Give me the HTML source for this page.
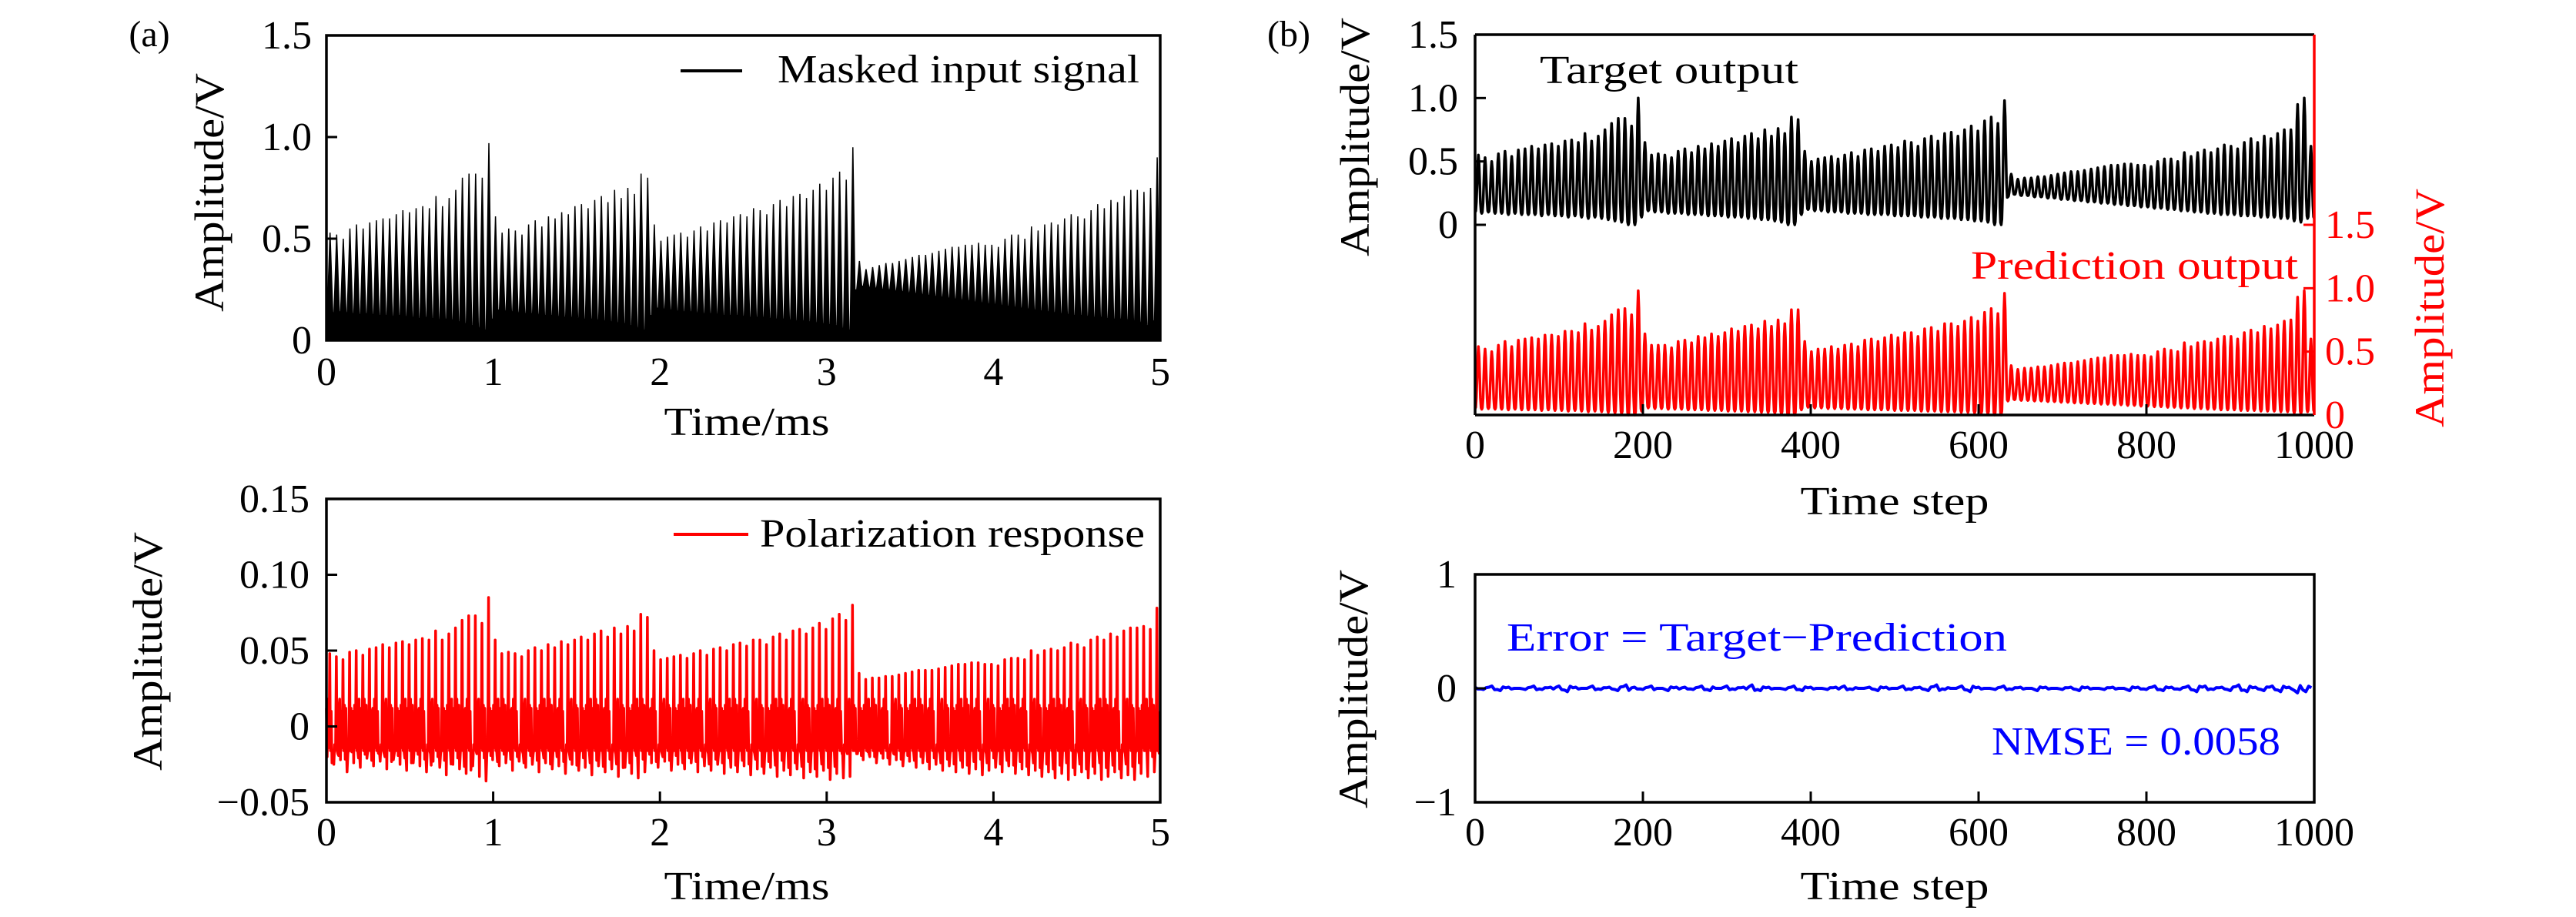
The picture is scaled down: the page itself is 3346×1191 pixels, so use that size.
<!DOCTYPE html>
<html><head><meta charset="utf-8"><style>
html,body{margin:0;padding:0;background:#fff;}
svg{display:block;}
text{font-family:"Liberation Serif","DejaVu Serif",serif;}
</style></head><body>
<svg id="fig" width="3346" height="1191" viewBox="0 0 3346 1191" xmlns="http://www.w3.org/2000/svg" font-family="Liberation Serif, DejaVu Serif, serif"></svg>
<script>
// ---- data (per oscillation cycle, 1000 time steps ~ 5 ms) ----
const targetPeaks = [0.55,0.53,0.50,0.56,0.58,0.54,0.59,0.60,0.62,0.60,0.63,0.64,0.62,0.66,0.67,0.65,0.72,0.66,0.70,0.75,0.80,0.84,0.84,0.78,1.00,
0.65,0.55,0.56,0.55,0.53,0.58,0.60,0.57,0.62,0.60,0.64,0.62,0.66,0.68,0.65,0.70,0.72,0.68,0.75,0.70,0.76,0.72,0.85,0.83,
0.58,0.50,0.52,0.53,0.54,0.52,0.55,0.57,0.54,0.59,0.60,0.58,0.62,0.63,0.61,0.66,0.65,0.62,0.68,0.70,0.66,0.72,0.73,0.70,0.75,0.78,0.74,0.82,0.85,0.80,0.98,
0.40,0.36,0.37,0.37,0.38,0.38,0.39,0.40,0.41,0.42,0.42,0.43,0.44,0.45,0.46,0.47,0.47,0.48,0.48,0.47,0.47,0.46,0.50,0.52,0.52,0.50,0.57,0.54,0.57,0.59,0.57,0.60,0.63,0.62,0.60,0.65,0.68,0.65,0.70,0.68,0.72,0.75,0.75,0.95,1.00,0.62];
const targetTroughs = [0.10,0.09,0.10,0.09,0.09,0.08,0.09,0.08,0.08,0.08,0.07,0.08,0.07,0.07,0.06,0.07,0.06,0.05,0.06,0.05,0.04,0.03,0.02,0.00,0.00,
0.06,0.11,0.10,0.10,0.09,0.09,0.09,0.08,0.08,0.08,0.07,0.07,0.07,0.06,0.06,0.06,0.05,0.05,0.04,0.04,0.03,0.02,0.00,0.00,
0.08,0.12,0.11,0.11,0.10,0.10,0.10,0.09,0.09,0.09,0.08,0.08,0.08,0.08,0.07,0.07,0.07,0.07,0.06,0.06,0.06,0.05,0.05,0.05,0.04,0.04,0.03,0.03,0.02,0.00,0.00,
0.22,0.24,0.23,0.23,0.22,0.22,0.21,0.21,0.20,0.20,0.19,0.19,0.18,0.18,0.17,0.17,0.16,0.16,0.15,0.15,0.14,0.14,0.13,0.13,0.12,0.12,0.11,0.11,0.10,0.10,0.09,0.09,0.08,0.08,0.08,0.07,0.07,0.07,0.06,0.06,0.06,0.05,0.05,0.03,0.02,0.05];
const inputPeaks = [0.53,0.52,0.50,0.55,0.57,0.55,0.58,0.59,0.60,0.60,0.62,0.64,0.63,0.65,0.66,0.65,0.71,0.66,0.70,0.74,0.80,0.82,0.82,0.80,0.97,
0.61,0.53,0.55,0.54,0.52,0.57,0.59,0.56,0.61,0.60,0.63,0.62,0.66,0.67,0.65,0.69,0.71,0.68,0.74,0.70,0.75,0.72,0.82,0.80,
0.57,0.49,0.51,0.52,0.53,0.51,0.54,0.56,0.54,0.58,0.59,0.58,0.61,0.62,0.61,0.65,0.64,0.62,0.67,0.69,0.66,0.71,0.72,0.70,0.74,0.77,0.74,0.80,0.83,0.79,0.95,
0.39,0.35,0.36,0.37,0.38,0.38,0.39,0.40,0.41,0.42,0.42,0.43,0.44,0.45,0.46,0.46,0.47,0.47,0.48,0.47,0.47,0.46,0.50,0.52,0.52,0.50,0.56,0.54,0.57,0.58,0.57,0.60,0.62,0.61,0.60,0.64,0.67,0.65,0.69,0.68,0.71,0.74,0.74,0.73,0.75,0.90];
const polarPeaks = [0.048,0.046,0.044,0.049,0.050,0.047,0.051,0.052,0.054,0.052,0.055,0.056,0.054,0.057,0.058,0.057,0.063,0.057,0.061,0.065,0.070,0.073,0.073,0.068,0.085,
0.057,0.048,0.049,0.048,0.046,0.050,0.052,0.050,0.054,0.052,0.056,0.054,0.057,0.059,0.057,0.061,0.063,0.059,0.065,0.061,0.066,0.063,0.074,0.072,
0.050,0.044,0.045,0.046,0.047,0.045,0.048,0.050,0.047,0.051,0.052,0.050,0.054,0.055,0.053,0.057,0.057,0.054,0.059,0.061,0.057,0.063,0.064,0.061,0.065,0.068,0.064,0.071,0.074,0.070,0.080,
0.035,0.031,0.032,0.032,0.033,0.033,0.034,0.035,0.036,0.037,0.037,0.037,0.038,0.039,0.040,0.041,0.041,0.042,0.042,0.041,0.041,0.040,0.044,0.045,0.045,0.044,0.050,0.047,0.050,0.051,0.050,0.052,0.055,0.054,0.052,0.057,0.059,0.057,0.061,0.059,0.063,0.065,0.065,0.066,0.064,0.078];
const polarMins = [-0.020,-0.025,-0.022,-0.030,-0.024,-0.027,-0.021,-0.026,-0.023,-0.028,-0.022,-0.025,-0.029,-0.024,-0.026,-0.030,-0.023,-0.027,-0.032,-0.025,-0.028,-0.031,-0.026,-0.033,-0.036,
-0.022,-0.026,-0.024,-0.029,-0.023,-0.027,-0.025,-0.030,-0.024,-0.028,-0.026,-0.031,-0.025,-0.029,-0.027,-0.032,-0.026,-0.030,-0.028,-0.033,-0.027,-0.031,-0.034,-0.030,
-0.024,-0.027,-0.023,-0.029,-0.025,-0.028,-0.024,-0.030,-0.026,-0.029,-0.025,-0.031,-0.027,-0.030,-0.026,-0.032,-0.028,-0.031,-0.027,-0.033,-0.029,-0.032,-0.028,-0.034,-0.030,-0.033,-0.029,-0.035,-0.031,-0.034,-0.033,
-0.018,-0.022,-0.020,-0.024,-0.021,-0.025,-0.022,-0.026,-0.023,-0.027,-0.024,-0.028,-0.025,-0.029,-0.026,-0.030,-0.027,-0.031,-0.028,-0.032,-0.029,-0.027,-0.030,-0.026,-0.031,-0.028,-0.032,-0.029,-0.033,-0.030,-0.034,-0.031,-0.035,-0.032,-0.030,-0.034,-0.031,-0.035,-0.033,-0.030,-0.034,-0.032,-0.035,-0.031,-0.033,-0.030];
const predPeaks = [0.54,0.52,0.50,0.55,0.58,0.54,0.59,0.60,0.61,0.60,0.63,0.63,0.62,0.66,0.66,0.65,0.72,0.67,0.70,0.74,0.79,0.83,0.84,0.79,0.98,
0.64,0.55,0.55,0.55,0.53,0.58,0.59,0.57,0.62,0.61,0.64,0.62,0.65,0.68,0.66,0.70,0.71,0.68,0.74,0.70,0.75,0.72,0.83,0.83,
0.58,0.50,0.52,0.52,0.54,0.52,0.55,0.56,0.54,0.59,0.60,0.58,0.61,0.63,0.61,0.65,0.65,0.62,0.68,0.69,0.66,0.72,0.72,0.70,0.74,0.77,0.74,0.81,0.84,0.80,0.96,
0.39,0.36,0.37,0.37,0.38,0.38,0.39,0.40,0.41,0.41,0.42,0.43,0.44,0.45,0.45,0.47,0.47,0.47,0.48,0.47,0.47,0.46,0.50,0.52,0.51,0.50,0.57,0.54,0.57,0.58,0.57,0.60,0.62,0.62,0.60,0.65,0.67,0.65,0.70,0.68,0.71,0.74,0.75,0.93,0.98,0.60];
const errorVals = [0.01,-0.01,0.02,-0.02,0.01,0.00,-0.01,0.02,-0.01,0.01,0.02,-0.03,0.01,0.00,0.02,-0.01,0.01,-0.02,0.03,0.01,-0.01,0.02,0.00,-0.02,0.01,
0.01,-0.01,0.02,-0.02,0.00,0.02,-0.01,0.01,0.03,-0.02,0.01,0.00,-0.01,0.02,-0.02,0.01,0.00,-0.01,0.01,0.02,-0.01,0.00,0.01,-0.02,0.01,
0.00,0.02,-0.01,0.01,-0.02,0.03,-0.01,0.00,0.02,-0.03,0.01,0.00,-0.01,0.02,-0.01,0.01,0.00,-0.02,0.01,0.00,-0.01,0.01,-0.02,0.01,0.00,
-0.01,0.01,0.00,-0.02,0.01,-0.01,0.02,-0.02,0.01,-0.01,0.02,-0.03,0.02,-0.01,0.01,-0.02,0.03,-0.03,0.01,-0.02,0.02,-0.03,0.01,-0.04,-0.03];
const xTicksA = ["0","1","2","3","4","5"];
const xTicksB = ["0","200","400","600","800","1000"];
const yTicksA1 = ["0","0.5","1.0","1.5"];
const yTicksA2 = ["\u22120.05","0","0.05","0.10","0.15"];
const yTicksB1 = ["0","0.5","1.0","1.5"];
const yTicksB2 = ["\u22121","0","1"];

const NS="http://www.w3.org/2000/svg";
const svg=document.getElementById('fig');
const FONT='Liberation Serif, DejaVu Serif, serif';
function el(tag,attrs,parent){const e=document.createElementNS(NS,tag);for(const k in attrs)e.setAttribute(k,attrs[k]);(parent||svg).appendChild(e);return e;}
function txt(s,x,y,size,color,anchor,parent){const t=el('text',{x:x,y:y,'font-size':size,fill:color||'#000','text-anchor':anchor||'middle','font-family':FONT},parent);t.textContent=s;return t;}
function fit(t,len){t.setAttribute('textLength',len);t.setAttribute('lengthAdjust','spacingAndGlyphs');}
function scale(d0,d1,r0,r1){return v=>r0+(v-d0)/(d1-d0)*(r1-r0);}

function wave(peaks,troughs,sharp,sub){
  const n=peaks.length, w=1000/n, pts=[];
  for(let i=0;i<n;i++){
    const tr0=troughs[i], tr1=troughs[Math.min(i+1,n-1)];
    for(let k=0;k<sub;k++){
      const f=k/sub; const c=Math.pow((1-Math.cos(2*Math.PI*f))/2,sharp);
      const base=tr0+(tr1-tr0)*f;
      pts.push([i*w+f*w, base+(peaks[i]-base)*c]);
    }
  }
  pts.push([1000,troughs[n-1]]);
  return pts;
}
function pathOf(pts,x,y){return pts.map((p,i)=>(i?'L':'M')+x(p[0]).toFixed(1)+','+y(p[1]).toFixed(1)).join('');}

function frame(g,L,T,R,B,name){
  const r=el('rect',{x:L,y:T,width:R-L,height:B-T,fill:'none',stroke:'#000','stroke-width':3.5},g);
  
}

// ========== Panel (a) top ==========
(function(){
  const L=424,R=1507,T=46,B=442;
  const g=el('g',{});  
  const x=scale(0,1000,L,R), y=scale(0,1.5,B,T);
  const n=inputPeaks.length, w=1000/n; let d='M'+L+','+B;
  for(let i=0;i<n;i++){
    const c=x(i*w+w*0.55), b=y(targetTroughs[i]*0.9+0.05);
    d+='L'+(x(i*w)).toFixed(1)+','+b.toFixed(1)+'L'+(c-3.5).toFixed(1)+','+b.toFixed(1)+'L'+c.toFixed(1)+','+y(inputPeaks[i]).toFixed(1)+'L'+(c+3.5).toFixed(1)+','+b.toFixed(1);
  }
  d+='L'+R+','+B+'Z';
  const p=el('path',{d:d,fill:'#000',stroke:'#000','stroke-width':1.5,'stroke-linejoin':'miter'},g);
  
  frame(g,L,T,R,B,'panel-a-top-frame');
  xTicksA.forEach((s,i)=>{const xx=L+i*(R-L)/5; if(i>0&&i<5) el('line',{x1:xx,y1:B,x2:xx,y2:B-14,stroke:'#000','stroke-width':3},g);
    const t=txt(s,xx,500,52,'#000','middle',g); });
  yTicksA1.forEach((s,i)=>{const yy=y(i*0.5); el('line',{x1:L,y1:yy,x2:L+14,y2:yy,stroke:'#000','stroke-width':3},g);
    const t=txt(s,405,yy+17,52,'#000','end',g); });
  el('line',{x1:884,y1:92,x2:964,y2:92,stroke:'#000','stroke-width':4},g);
  const lg=txt('Masked input signal',1010,107,52,'#000','start',g); fit(lg,470);
  
  const xt=txt('Time/ms',970,565,52,'#000','middle',g); fit(xt,215); 
  const yt=txt('Amplitude/V',0,0,54,'#000','middle',g); fit(yt,310); yt.setAttribute('transform','translate(290,250) rotate(-90)');
  
  const lab=txt('(a)',194,60,48,'#000','middle',g); 
})();

// ========== Panel (a) bottom ==========
(function(){
  const L=424,R=1507,T=648,B=1042;
  const g=el('g',{});  
  const x=scale(0,1000,L,R), y=scale(-0.05,0.15,B,T);
  const n=polarPeaks.length, w=1000/n; const wig=[0.012,-0.016,0.018,-0.012,0.010,-0.018,0.014];
  let d='';
  for(let i=0;i<n;i++){
    const s=i*w;
    const seq=[[0,wig[i%7]],[0.12,polarMins[i]],[0.25,wig[(i+2)%7]],[0.38,-0.014],[0.5,polarPeaks[i]],[0.6,-0.016],[0.72,wig[(i+4)%7]],[0.84,polarMins[(i+3)%n]*0.8],[0.93,wig[(i+5)%7]]];
    seq.forEach((q,k)=>{d+=((i||k)?'L':'M')+x(s+q[0]*w).toFixed(1)+','+y(q[1]).toFixed(1);});
  }
  const p=el('path',{d:d,fill:'none',stroke:'#f00','stroke-width':3.5,'stroke-linejoin':'round'},g);
  
  frame(g,L,T,R,B,'panel-a-bottom-frame');
  xTicksA.forEach((s,i)=>{const xx=L+i*(R-L)/5; if(i>0&&i<5) el('line',{x1:xx,y1:B,x2:xx,y2:B-14,stroke:'#000','stroke-width':3},g);
    const t=txt(s,xx,1098,52,'#000','middle',g); });
  yTicksA2.forEach((s,i)=>{const yy=y(-0.05+i*0.05); if(i>0&&i<4) el('line',{x1:L,y1:yy,x2:L+14,y2:yy,stroke:'#000','stroke-width':3},g);
    const t=txt(s,402,yy+17,52,'#000','end',g); });
  el('line',{x1:875,y1:694,x2:972,y2:694,stroke:'#f00','stroke-width':4},g);
  const lg=txt('Polarization response',987,710,52,'#000','start',g); fit(lg,500);
  
  const xt=txt('Time/ms',970,1168,52,'#000','middle',g); fit(xt,215); 
  const yt=txt('Amplitude/V',0,0,54,'#000','middle',g); fit(yt,310); yt.setAttribute('transform','translate(210,846) rotate(-90)');
  
})();

// ========== Panel (b) top ==========
(function(){
  const L=1916,R=3006,T=45,B=539;
  const g=el('g',{});  
  const x=scale(0,1000,L,R), yb=scale(0,1.5,292,T), yr=scale(0,1.5,B,292);
  const p1=el('path',{d:pathOf(wave(targetPeaks,targetTroughs,1.6,10),x,yb),fill:'none',stroke:'#000','stroke-width':3.5,'stroke-linejoin':'round'},g);
  
  const p2=el('path',{d:pathOf(wave(predPeaks,targetTroughs.map(v=>v*0.5),1.6,10),x,yr),fill:'none',stroke:'#f00','stroke-width':3.5,'stroke-linejoin':'round'},g);
  
  el('line',{x1:L,y1:T,x2:R,y2:T,stroke:'#000','stroke-width':3.5},g);
  el('line',{x1:L,y1:B,x2:R,y2:B,stroke:'#000','stroke-width':3.5},g);
  el('line',{x1:L,y1:T,x2:L,y2:B,stroke:'#000','stroke-width':3.5},g);
  const ra=el('line',{x1:R,y1:T,x2:R,y2:B,stroke:'#f00','stroke-width':3.5},g);
  
  xTicksB.forEach((s,i)=>{const xx=L+i*(R-L)/5; if(i>0&&i<5) el('line',{x1:xx,y1:B,x2:xx,y2:B-14,stroke:'#000','stroke-width':3},g);
    const t=txt(s,xx,595,52,'#000','middle',g); });
  yTicksB1.forEach((s,i)=>{const yy=yb(i*0.5); if(i<3) el('line',{x1:L,y1:yy,x2:L+14,y2:yy,stroke:'#000','stroke-width':3},g);
    const t=txt(s,1894,yy+17,52,'#000','end',g); });
  yTicksB1.forEach((s,i)=>{const yy=yr(i*0.5); if(i>0) el('line',{x1:R,y1:yy,x2:R-14,y2:yy,stroke:'#f00','stroke-width':3},g);
    const t=txt(s,3020,yy+17,52,'#f00','start',g); });
  const t1=txt('Target output',2000,108,52,'#000','start',g); fit(t1,336);
  
  const t2=txt('Prediction output',2560,362,52,'#f00','start',g); fit(t2,425);
  
  const xt=txt('Time step',2461,668,52,'#000','middle',g); fit(xt,245); 
  const yt=txt('Amplitude/V',0,0,54,'#000','middle',g); fit(yt,310); yt.setAttribute('transform','translate(1778,178) rotate(-90)');
  
  const yt2=txt('Amplitude/V',0,0,54,'#f00','middle',g); fit(yt2,310); yt2.setAttribute('transform','translate(3174,400) rotate(-90)');
  
  const lab=txt('(b)',1674,60,48,'#000','middle',g); 
})();

// ========== Panel (b) bottom ==========
(function(){
  const L=1916,R=3006,T=746,B=1042;
  const g=el('g',{});  
  const x=scale(0,1000,L,R), y=scale(-1,1,B,T);
  const n=errorVals.length; let d='';
  for(let i=0;i<n;i++){
    const s=i*1000/n, w=1000/n;
    d+=(i?'L':'M')+x(s).toFixed(1)+','+y(errorVals[i]).toFixed(1);
    d+='L'+x(s+w*0.33).toFixed(1)+','+y(-errorVals[i]*0.6).toFixed(1);
    d+='L'+x(s+w*0.66).toFixed(1)+','+y(errorVals[(i+1)%n]*0.5).toFixed(1);
  }
  const p=el('path',{d:d,fill:'none',stroke:'#00f','stroke-width':4,'stroke-linejoin':'round'},g);
  
  frame(g,L,T,R,B,'panel-b-bottom-frame');
  xTicksB.forEach((s,i)=>{const xx=L+i*(R-L)/5; if(i>0&&i<5) el('line',{x1:xx,y1:B,x2:xx,y2:B-14,stroke:'#000','stroke-width':3},g);
    const t=txt(s,xx,1098,52,'#000','middle',g); });
  yTicksB2.forEach((s,i)=>{const yy=y(-1+i); if(i==1) el('line',{x1:L,y1:yy,x2:L+14,y2:yy,stroke:'#000','stroke-width':3},g);
    const t=txt(s,1892,yy+17,52,'#000','end',g); });
  const e1=txt('Error = Target\u2212Prediction',1957,845,52,'#00f','start',g); fit(e1,650);
  
  const e2=txt('NMSE = 0.0058',2962,980,52,'#00f','end',g); fit(e2,375);
  
  const xt=txt('Time step',2461,1168,52,'#000','middle',g); fit(xt,245); 
  const yt=txt('Amplitude/V',0,0,54,'#000','middle',g); fit(yt,310); yt.setAttribute('transform','translate(1776,895) rotate(-90)');
  
})();
</script>
</body></html>
